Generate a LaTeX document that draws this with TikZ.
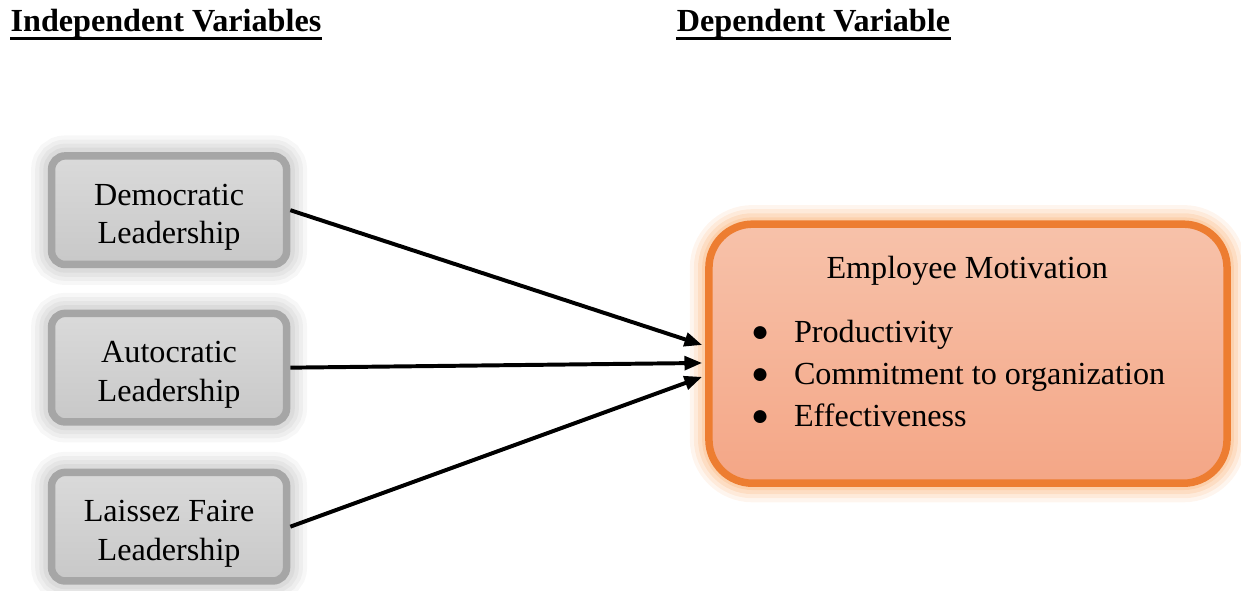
\documentclass[tikz,border=0pt]{standalone}
\usepackage{fontspec}
\setmainfont{Liberation Serif}
\usepackage{tikz}
\usetikzlibrary{positioning,arrows.meta}

\definecolor{lvborder}{RGB}{166,166,166}
\definecolor{lvtop}{RGB}{218,218,218}
\definecolor{lvbot}{RGB}{200,200,200}
\definecolor{lvglow}{RGB}{175,175,175}
\definecolor{emborder}{RGB}{237,125,49}
\definecolor{emtop}{RGB}{247,194,170}
\definecolor{embot}{RGB}{244,166,134}
\definecolor{emglow}{RGB}{251,190,140}

% pushes the two text lines of the grey boxes a bit lower
\newcommand{\upstrut}{\rule{0pt}{13pt}}

\begin{document}
\begin{tikzpicture}[
    font=\fontsize{11.8}{14.3}\selectfont,
    lvbox/.style={draw=lvborder, line width=2.75pt, rounded corners=5pt,
                  top color=lvtop, bottom color=lvbot,
                  minimum width=3.03cm, minimum height=1.40cm, align=center,
                  preaction={draw=lvglow, line width=15pt, opacity=0.1},
                  preaction={draw=lvglow, line width=12pt, opacity=0.12},
                  preaction={draw=lvglow, line width=9pt, opacity=0.15},
                  preaction={draw=lvglow, line width=6pt, opacity=0.18}},
    embox/.style={draw=emborder, line width=2.75pt, rounded corners=16pt,
                  top color=emtop, bottom color=embot,
                  minimum width=6.68cm, minimum height=3.34cm,
                  preaction={draw=emglow, line width=14pt, opacity=0.15},
                  preaction={draw=emglow, line width=11pt, opacity=0.2},
                  preaction={draw=emglow, line width=8pt, opacity=0.3},
                  preaction={draw=emglow, line width=5pt, opacity=0.4}},
    head/.style={anchor=base west, inner sep=0pt,
                 font=\fontsize{11.8}{14}\selectfont\bfseries},
    uline/.style={line width=1.4pt, black},
    bul/.style={anchor=base, inner sep=0pt, font=\fontsize{11}{12}\selectfont},
    infarr/.style={-{Triangle[length=6.5pt,width=5pt]}, line width=1.45pt, black}
  ]
    \useasboundingbox (0,0) rectangle (16.0,7.61);

    % column headings
    \node[head] (IV) at (0.13, 7.198) {Independent Variables};
    \node[head] (DV) at (8.72, 7.198) {Dependent Variable};
    \draw[uline] ([yshift=-2.4pt]IV.base west) -- ([yshift=-2.4pt]IV.base east);
    \draw[uline] ([yshift=-2.4pt]DV.base west) -- ([yshift=-2.4pt]DV.base east);

    % leadership styles
    \node[lvbox] (L1) at (2.18, 4.90) {\upstrut Democratic\\Leadership};
    \node[lvbox] (L2) at (2.18, 2.87) {\upstrut Autocratic\\Leadership};
    \node[lvbox] (L3) at (2.18, 0.82) {\upstrut Laissez Faire\\Leadership};

    % motivation box
    \node[embox] (EM) at (12.48, 3.05) {};
    \node[anchor=base] (EMT) at (12.47, 4.025) {Employee Motivation};
    \foreach \txt [count=\i] in {Productivity, Commitment to organization, Effectiveness} {
      \node[bul] (b\i) at (9.80, 3.75-0.542*\i) {●};
      \node[anchor=base west, inner sep=0pt] (f\i) at (10.23, 3.74-0.542*\i) {\txt};
    }

    \draw[infarr] (L1.east) -- ([xshift=-1.1pt,yshift=3.2pt]EM.west);
    \draw[infarr] (L2.east) -- ([xshift=-1.1pt,yshift=-3.4pt]EM.west);
    \draw[infarr] (L3.east) -- ([xshift=-1.1pt,yshift=-8.5pt]EM.west);
  \end{tikzpicture}
\end{document}
